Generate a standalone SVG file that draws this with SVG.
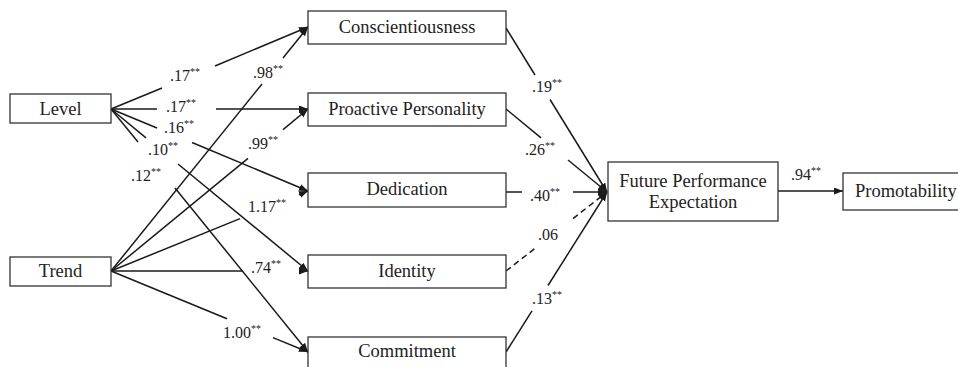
<svg xmlns="http://www.w3.org/2000/svg" width="958" height="367" viewBox="0 0 958 367">
<style>
.box{fill:#fff;stroke:#333;stroke-width:1.3}
.lbl{font-family:"Liberation Serif","Times New Roman",serif;font-size:18.5px;fill:#222;text-anchor:middle}
.coef{font-family:"Liberation Serif","Times New Roman",serif;font-size:16px;fill:#222}
.st{font-size:10px}
.ln{stroke:#1a1a1a;stroke-width:1.5;fill:none}
.dash{stroke-dasharray:6,4}
</style>
<defs>
<marker id="ah" markerUnits="userSpaceOnUse" markerWidth="10" markerHeight="8" refX="9" refY="3.5" orient="auto">
<path d="M0,0 L9,3.5 L0,7 z" fill="#1a1a1a"/>
</marker>
</defs>
<rect width="958" height="367" fill="#fff"/>
<g id="connectors">
<path class="ln" d="M111,109 L162,88"/><path class="ln" d="M215,66 L308,27" marker-end="url(#ah)"/>
<path class="ln" d="M111,109 L157,109"/><path class="ln" d="M216,109 L308,109" marker-end="url(#ah)"/>
<path class="ln" d="M111,109 L157,128"/><path class="ln" d="M192,142.5 L308,191" marker-end="url(#ah)"/>
<path class="ln" d="M111,109 L146,137.8"/><path class="ln" d="M178,164 L308,271" marker-end="url(#ah)"/>
<path class="ln" d="M111,109 L138,142"/><path class="ln" d="M175,188 L308,352" marker-end="url(#ah)"/>
<path class="ln" d="M111,271 L262,84"/><path class="ln" d="M283,58 L308,27" marker-end="url(#ah)"/>
<path class="ln" d="M111,271 L248,158.4"/><path class="ln" d="M283,129.6 L308,109" marker-end="url(#ah)"/>
<path class="ln" d="M111,271 L240,218.6"/><path class="ln" d="M299,194.7 L308,191" marker-end="url(#ah)"/>
<path class="ln" d="M111,271 L243,271"/><path class="ln" d="M299,271 L308,271" marker-end="url(#ah)"/>
<path class="ln" d="M111,271 L227,318.7"/><path class="ln" d="M273,337.6 L308,352" marker-end="url(#ah)"/>
<path class="ln" d="M506,28 L535,75"/><path class="ln" d="M550,99.5 L607,192" marker-end="url(#ah)"/>
<path class="ln" d="M506,109 L541,137.8"/><path class="ln" d="M568,160 L607,192" marker-end="url(#ah)"/>
<path class="ln" d="M506,192 L522,192"/><path class="ln" d="M573,192 L607,192" marker-end="url(#ah)"/>
<path class="ln dash" d="M506,271 L537,246.8"/><path class="ln dash" d="M573,218.6 L607,192" marker-end="url(#ah)"/>
<path class="ln" d="M506,352 L532,310.8"/><path class="ln" d="M548,285.5 L607,192" marker-end="url(#ah)"/>
<path class="ln" d="M778,191 L843,191" marker-end="url(#ah)"/>
<text class="coef" x="170" y="81">.17<tspan class="st" dy="-6">**</tspan></text>
<text class="coef" x="166" y="112">.17<tspan class="st" dy="-6">**</tspan></text>
<text class="coef" x="164" y="133">.16<tspan class="st" dy="-6">**</tspan></text>
<text class="coef" x="148" y="155">.10<tspan class="st" dy="-6">**</tspan></text>
<text class="coef" x="131" y="181">.12<tspan class="st" dy="-6">**</tspan></text>
<text class="coef" x="253" y="78">.98<tspan class="st" dy="-6">**</tspan></text>
<text class="coef" x="248" y="149">.99<tspan class="st" dy="-6">**</tspan></text>
<text class="coef" x="248" y="212">1.17<tspan class="st" dy="-6">**</tspan></text>
<text class="coef" x="251" y="273">.74<tspan class="st" dy="-6">**</tspan></text>
<text class="coef" x="223" y="338">1.00<tspan class="st" dy="-6">**</tspan></text>
<text class="coef" x="532" y="92">.19<tspan class="st" dy="-6">**</tspan></text>
<text class="coef" x="525" y="155">.26<tspan class="st" dy="-6">**</tspan></text>
<text class="coef" x="530" y="201">.40<tspan class="st" dy="-6">**</tspan></text>
<text class="coef" x="538" y="240">.06</text>
<text class="coef" x="532" y="304">.13<tspan class="st" dy="-6">**</tspan></text>
<text class="coef" x="791" y="180">.94<tspan class="st" dy="-6">**</tspan></text>
</g>
<g id="level"><rect class="box" x="10" y="94" width="101" height="29"/><text class="lbl" x="60.5" y="115">Level</text></g>
<g id="trend"><rect class="box" x="10" y="257" width="101" height="29"/><text class="lbl" x="60.5" y="277">Trend</text></g>
<g id="conscientiousness"><rect class="box" x="308" y="11" width="198" height="33"/><text class="lbl" x="407" y="33">Conscientiousness</text></g>
<g id="proactive"><rect class="box" x="308" y="93" width="198" height="33"/><text class="lbl" x="407" y="115">Proactive Personality</text></g>
<g id="dedication"><rect class="box" x="308" y="173" width="198" height="34"/><text class="lbl" x="407" y="195">Dedication</text></g>
<g id="identity"><rect class="box" x="308" y="255" width="198" height="33"/><text class="lbl" x="407" y="277">Identity</text></g>
<g id="commitment"><rect class="box" x="308" y="337" width="198" height="34"/><text class="lbl" x="407" y="357">Commitment</text></g>
<g id="fpe"><rect class="box" x="608" y="162" width="170" height="59"/><text class="lbl" x="693" y="187">Future Performance</text><text class="lbl" x="693" y="208">Expectation</text></g>
<g id="promotability"><rect class="box" x="843" y="173" width="120" height="37"/><text class="lbl" x="855" y="197" style="text-anchor:start">Promotability</text></g>
</svg>
